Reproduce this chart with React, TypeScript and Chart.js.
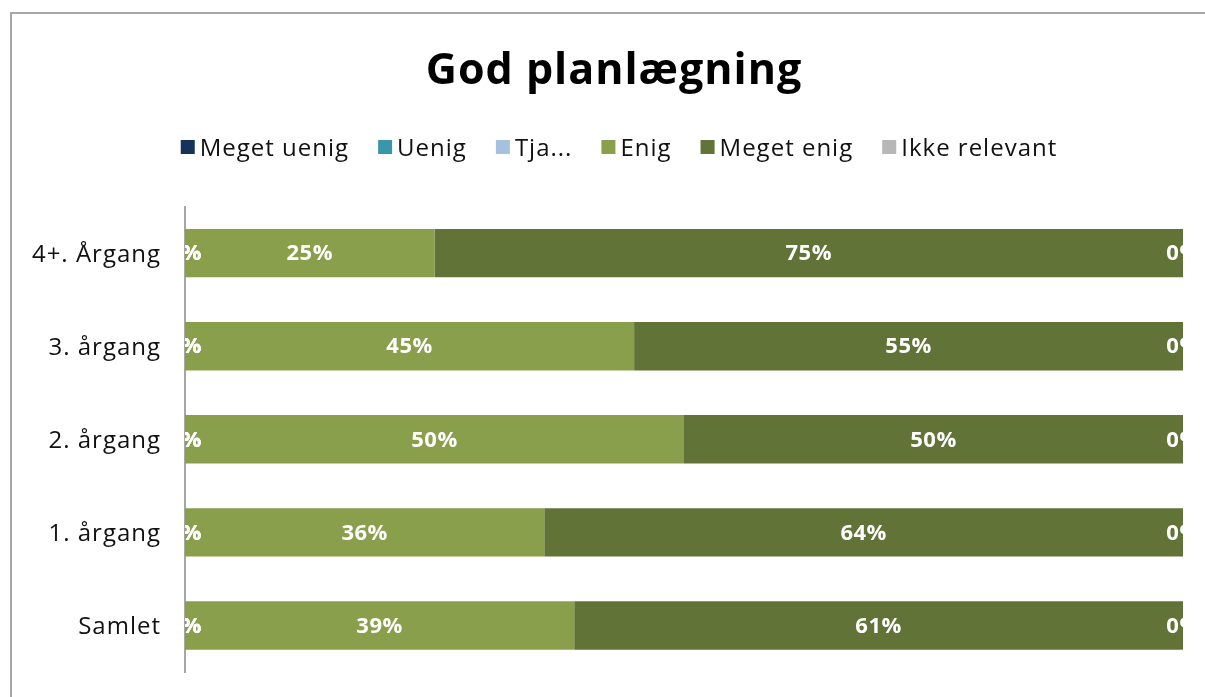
import React, { useEffect, useRef } from "react";
import { Chart, registerables } from "chart.js";

Chart.register(...registerables);

const categories = ["4+. Årgang", "3. årgang", "2. årgang", "1. årgang", "Samlet"];
const seriesNames = ["Meget uenig", "Uenig", "Tja...", "Enig", "Meget enig", "Ikke relevant"];
const seriesColors = ["#17325a", "#3a97ab", "#a6c1e0", "#8a9f4b", "#627337", "#b7b7b7"];
const megetUenig = [0, 0, 0, 0, 0];
const uenig = [0, 0, 0, 0, 0];
const tja = [0, 0, 0, 0, 0];
const enig = [25, 45, 50, 36, 39];
const megetEnig = [75, 55, 50, 64, 61];
const ikkeRelevant = [0, 0, 0, 0, 0];
const seriesValues = [megetUenig, uenig, tja, enig, megetEnig, ikkeRelevant];
const titleText = "God planlægning";

const FONT = "'Open Sans', sans-serif";

const spacingPlugin = {
  id: "spacing",
  afterLayout(chart: any) {
    const t = chart.titleBlock;
    if (t) {
      t.left += 17.5;
      t.right += 17.5;
    }
  },
  beforeDraw(chart: any) {
    (chart.ctx as any).letterSpacing = "1px";
  },
  afterDraw(chart: any) {
    (chart.ctx as any).letterSpacing = "0px";
  },
};

const legendPlugin = {
  id: "customLegend",
  afterDraw(chart: any) {
    const ctx = chart.ctx;
    const items = chart.data.datasets.map((d: any) => ({ text: d.label, color: d.backgroundColor }));
    ctx.save();
    (ctx as any).letterSpacing = "1px";
    ctx.font = `24px ${FONT}`;
    const box = 14;
    const gap = 5;
    const spacing = 29;
    const widths = items.map((it: any) => box + gap + ctx.measureText(it.text).width);
    const total = widths.reduce((a: number, b: number) => a + b, 0) + spacing * (items.length - 1);
    let x = 619 - total / 2;
    const yc = 148;
    ctx.textBaseline = "middle";
    ctx.textAlign = "left";
    items.forEach((it: any, i: number) => {
      ctx.fillStyle = it.color;
      ctx.fillRect(x, yc - box / 2 - 1, box, box);
      ctx.fillStyle = "#111";
      ctx.fillText(it.text, x + box + gap, yc + 1);
      x += widths[i] + spacing;
    });
    ctx.restore();
  },
};

const labelPlugin = {
  id: "barLabels",
  afterDatasetsDraw(chart: any) {
    const ctx = chart.ctx;
    const area = chart.chartArea;
    ctx.save();
    ctx.beginPath();
    ctx.rect(area.left, area.top, area.right - area.left, area.bottom - area.top);
    ctx.clip();
    (ctx as any).letterSpacing = "0.5px";
    ctx.font = `bold 22px ${FONT}`;
    ctx.fillStyle = "#ffffff";
    ctx.textAlign = "center";
    ctx.textBaseline = "middle";
    chart.data.datasets.forEach((ds: any, di: number) => {
      const meta = chart.getDatasetMeta(di);
      meta.data.forEach((el: any, i: number) => {
        const v = ds.data[i];
        const cx = (el.x + el.base) / 2;
        ctx.fillText(`${Math.round(v)}%`, cx, el.y + 1);
      });
    });
    ctx.restore();
  },
};

export default function App() {
  const ref = useRef<HTMLCanvasElement | null>(null);
  useEffect(() => {
    if (!ref.current) return;
    const chart = new Chart(ref.current, {
      type: "bar",
      data: {
        labels: categories,
        datasets: seriesNames.map((name, i) => ({
          label: name,
          data: seriesValues[i],
          backgroundColor: seriesColors[i],
          borderWidth: 0,
          barPercentage: 1,
          categoryPercentage: 0.52,
        })),
      },
      options: {
        indexAxis: "y",
        animation: false,
        responsive: false,
        maintainAspectRatio: false,
        layout: { padding: { left: 10, right: 47, top: 0, bottom: 25 } },
        plugins: {
          legend: { display: false },
          tooltip: { enabled: false },
          title: {
            display: true,
            text: titleText,
            color: "#000",
            font: { family: FONT, size: 43, weight: "bold", lineHeight: 1.2 },
            padding: { top: 46, bottom: 109 },
          },
        },
        scales: {
          x: {
            stacked: true,
            min: 0,
            max: 100,
            display: false,
          },
          y: {
            stacked: true,
            grid: { display: false, drawTicks: false },
            border: { display: true, color: "#a6a6a6", width: 2 },
            ticks: {
              color: "#111",
              padding: 24,
              labelOffset: 2,
              font: { family: FONT, size: 24 },
            },
            afterFit(scale: any) {
              scale.width = 175;
              scale.paddingTop = 0;
              scale.paddingBottom = 0;
            },
          },
        },
      },
      plugins: [spacingPlugin, labelPlugin, legendPlugin],
    } as any);
    return () => chart.destroy();
  }, []);

  return (
    <div
      style={{
        position: "fixed",
        left: 0,
        top: 0,
        width: 1205,
        height: 697,
        overflow: "hidden",
        background: "#fff",
      }}
    >
      <div
        style={{
          position: "absolute",
          left: 10,
          top: 12,
          width: 1400,
          height: 900,
          borderLeft: "2px solid #a6a6a6",
          borderTop: "2px solid #a6a6a6",
          boxSizing: "border-box",
        }}
      />
      <canvas
        ref={ref}
        width={1230}
        height={697}
        style={{ position: "absolute", left: 0, top: 0, width: 1230, height: 697 }}
      />
    </div>
  );
}
